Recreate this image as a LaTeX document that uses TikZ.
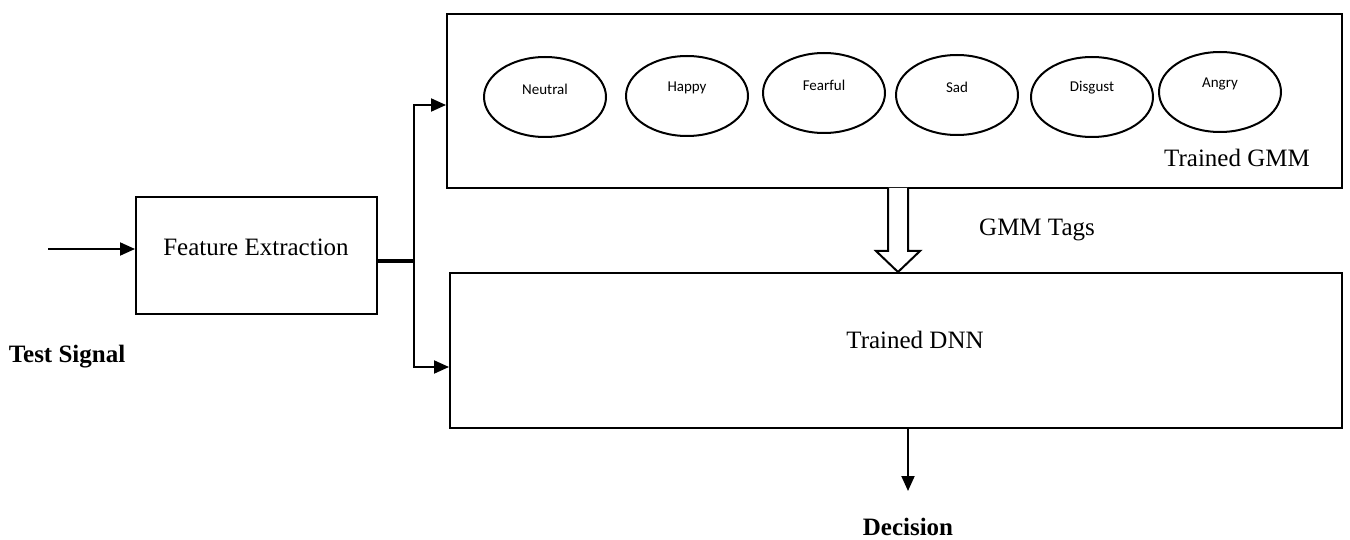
\documentclass[tikz,border=0pt]{standalone}
\usepackage{fontspec}
\setmainfont{Liberation Serif}
\newfontfamily\calib{Carlito}
\usetikzlibrary{shapes.geometric,arrows.meta}
\begin{document}
\begin{tikzpicture}[x=1pt,y=-1pt,
  blk/.style={draw,line width=2pt,rectangle,inner sep=0pt},
  emo/.style={draw,line width=2pt,ellipse,minimum width=122pt,minimum height=80pt,inner sep=0pt},
  emotext/.style={font=\calib\fontsize{15}{17}\selectfont,inner sep=0pt},
  lbl/.style={font=\fontsize{25}{28}\selectfont,inner sep=0pt},
  blbl/.style={font=\bfseries\fontsize{25}{28}\selectfont,inner sep=0pt},
  conn/.style={line width=2pt,-{Triangle[length=15pt,width=13pt]}}]
\useasboundingbox (0,0) rectangle (1350,540);
% boxes
\node[blk,minimum width=895pt,minimum height=174pt] (gmm) at (894.5,101) {};
\node[blk,minimum width=892pt,minimum height=155pt] (dnn) at (896,350.5) {};
\node[blk,minimum width=241pt,minimum height=117pt] (fe) at (256.5,255.5) {};
\node[lbl] (fet) at (256,247) {Feature Extraction};
\node[lbl] (gmmt) at (1237,158) {Trained GMM};
\node[lbl] (dnnt) at (915,340) {Trained DNN};
\node[lbl] (tags) at (1037,230) {GMM Tags};
\node[blbl] (ts) at (67,357) {Test Signal};
\node[blbl] (dec) at (908,527) {Decision};
% ellipses
\node[emo] (e1) at (545,97) {};
\node[emo] (e2) at (687,96) {};
\node[emo] (e3) at (824,93) {};
\node[emo] (e4) at (957,95) {};
\node[emo] (e5) at (1092,97) {};
\node[emo] (e6) at (1220,92) {};
\node[emotext] at (545,89) {Neutral};
\node[emotext] at (687,88) {Happy};
\node[emotext] at (824,85) {Fearful};
\node[emotext] at (957,87) {Sad};
\node[emotext] at (1092,88) {Disgust};
\node[emotext] at (1220,84) {Angry};
% connectors
\coordinate (in) at (48,249);
\draw[conn] (in) -- (fe.west |- in);
\coordinate (split) at (414,261);
\draw[line width=3.5pt] (fe.east |- split) -- (split);
\coordinate (up) at (414,105);
\coordinate (dn) at (414,367);
\draw[conn] (split) -- (up) -- (gmm.west |- up);
\draw[conn] (split) -- (dn) -- (dnn.west |- dn);
\coordinate (dout) at (908,491);
\draw[conn] (dnn.south -| dout) -- (dout);
% hollow arrow
\draw[line width=2pt,fill=white,line join=miter]
  (888,188) -- (888,251) -- (876,251) -- (898,272) -- (920,251) -- (908,251) -- (908,188);
\end{tikzpicture}
\end{document}
